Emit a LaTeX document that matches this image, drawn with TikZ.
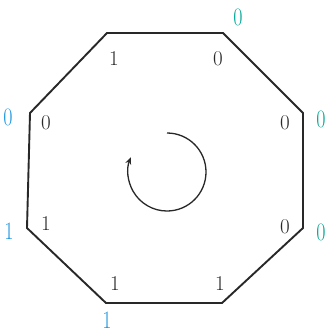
\documentclass[tikz,border=0pt]{standalone}
\usetikzlibrary{arrows.meta}
\definecolor{tealgreen}{RGB}{0,168,150}
\definecolor{skyblue}{RGB}{30,150,225}
\definecolor{edgegray}{RGB}{40,40,40}
\begin{document}
\begin{tikzpicture}[x=1pt,y=-1pt,
  edge/.style={draw=edgegray,line width=1.9pt,line join=miter},
  inner/.style={inner sep=0pt,font=\fontsize{21}{23}\selectfont,text=edgegray},
  outerA/.style={inner sep=0pt,font=\fontsize{20}{22}\selectfont,text=tealgreen,yscale=1.25},
  outerB/.style={inner sep=0pt,font=\fontsize{20}{22}\selectfont,text=skyblue,yscale=1.25},
  turn/.style={draw=edgegray,line width=1.3pt,-{Stealth[length=7pt,width=6pt]}}]
\useasboundingbox[fill=white] (0,0) rectangle (328,334);
% octagon vertices
\coordinate (v1) at (107,33);
\coordinate (v2) at (223,33);
\coordinate (v3) at (303,113);
\coordinate (v4) at (303,228);
\coordinate (v5) at (222,303);
\coordinate (v6) at (106,303);
\coordinate (v7) at (27,228);
\coordinate (v8) at (30,113);
\draw[edge] (v1) -- (v2) -- (v3) -- (v4) -- (v5) -- (v6) -- (v7) -- (v8) -- cycle;
% inner labels
\node[inner] (i1) at (114,59) {1};
\node[inner] (i2) at (218,59) {0};
\node[inner] (i3) at (46,123) {0};
\node[inner] (i4) at (285,123) {0};
\node[inner] (i5) at (46,224) {1};
\node[inner] (i6) at (285,227) {0};
\node[inner] (i7) at (115,284) {1};
\node[inner] (i8) at (220,284) {1};
% outer labels
\node[outerA] (o1) at (238,17) {0};
\node[outerA] (o2) at (321,119) {0};
\node[outerA] (o3) at (321,232) {0};
\node[outerB] (o4) at (8,117) {0};
\node[outerB] (o5) at (9,231) {1};
\node[outerB] (o6) at (107,320) {1};
% rotation arrow
\coordinate (c) at (167,172);
\draw[turn] (167,133) arc[start angle=90,end angle=-202,radius=39pt];
\end{tikzpicture}
\end{document}
